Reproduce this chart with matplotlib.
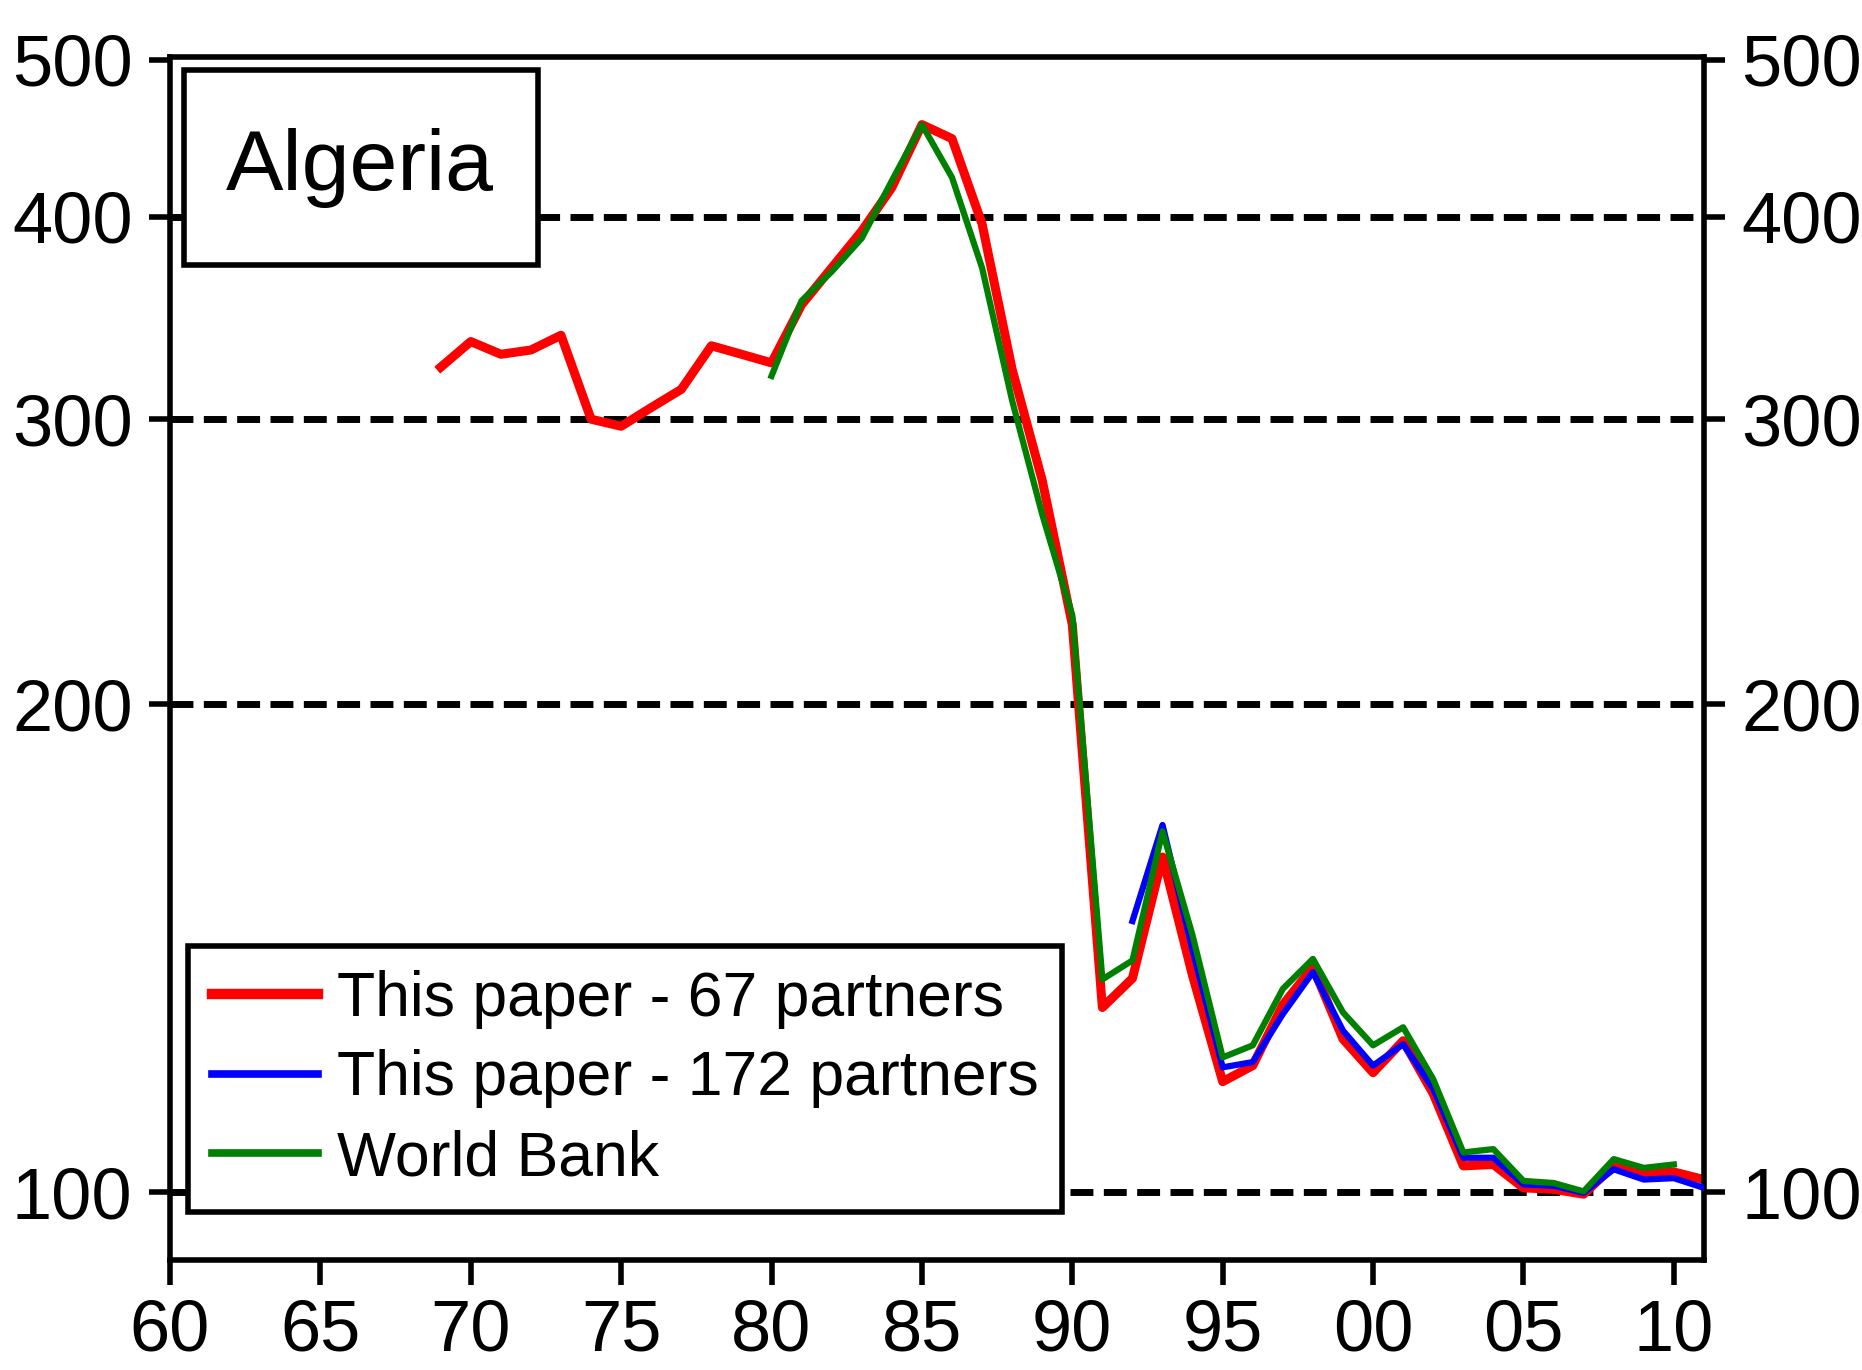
import matplotlib
matplotlib.use('Agg')
import matplotlib.pyplot as plt
import matplotlib.font_manager as fm
from matplotlib.patches import Rectangle
from matplotlib.ticker import FixedLocator, NullLocator, FuncFormatter

# narrow Arial-like font if available, else regular one a bit smaller
names = {f.name for f in fm.fontManager.ttflist}
if 'Liberation Sans Narrow' in names:
    fam, k = ['Liberation Sans Narrow', 'DejaVu Sans'], 1.2
else:
    fam, k = ['Liberation Sans', 'DejaVu Sans'], 1.0
plt.rcParams['font.family'] = fam

country = 'Algeria'
series_labels = ['This paper - 67 partners', 'This paper - 172 partners', 'World Bank']

years_67 = list(range(1969, 2012))
vals_67 = [323, 335, 329, 331, 338, 300, 297, 305, 313, 333, 329,
           325, 353, 372, 392, 417, 456, 447, 396, 322, 275,
           224, 130, 135.5, 161, 136, 117, 119.7, 130.5, 137.7, 124.3,
           118.5, 124, 115, 103.8, 104, 100.6, 100.4, 99.7, 103.8, 102.6,
           102.9, 101.8]

years_172 = list(range(1992, 2012))
vals_172 = [147, 168.5, 141, 119.4, 120.3, 128.8, 136.7, 125.8,
            119.7, 123.4, 115.8, 105, 105, 101.1, 100.9, 99.9, 103.3, 101.8,
            102, 100.6]

years_wb = list(range(1980, 2011))
vals_wb = [319, 355, 370, 388, 421, 456, 423, 372, 308, 262,
           227, 135.3, 139, 167, 144, 121.1, 123.2, 133.5, 139.3, 129.1,
           123.2, 126.4, 117.4, 105.8, 106.3, 101.6, 101.3, 100.1, 104.8, 103.5,
           104]

yticks = [100, 200, 300, 400, 500]
xticks = list(range(1960, 2011, 5))

fig = plt.figure(figsize=(18.62, 13.70), dpi=100)
ax = fig.add_axes([0.0913, 0.0803, 0.9151 - 0.0913, 0.9584 - 0.0803])

ax.plot(years_67, vals_67, color='#ff0000', lw=6.5, label=series_labels[0], zorder=2)
ax.plot(years_172, vals_172, color='#0000ff', lw=4.5, label=series_labels[1], zorder=3)
ax.plot(years_wb, vals_wb, color='#008000', lw=4.5, label=series_labels[2], zorder=4)

ax.set_yscale('log')
ax.set_ylim(90.8, 502)
ax.set_xlim(1960, 2011)
ax.yaxis.set_major_locator(FixedLocator(yticks))
ax.yaxis.set_minor_locator(NullLocator())
ax.yaxis.set_major_formatter(FuncFormatter(lambda v, p: f'{int(round(v))}'))
ax.xaxis.set_major_locator(FixedLocator(xticks))
ax.xaxis.set_major_formatter(FuncFormatter(lambda v, p: f'{int(v) % 100:02d}'))

# dashed reference lines (top one sits on the frame)
for v in yticks[:-1]:
    ax.axhline(v, color='black', lw=5, linestyle=(0, (3.3, 1.5)), zorder=1)

for s in ax.spines.values():
    s.set_linewidth(4)
ax.tick_params(axis='y', which='major', direction='out', length=15, width=4,
               pad=12, labelsize=52 * k, left=True, right=True,
               labelleft=True, labelright=True)
ax.tick_params(axis='x', which='major', direction='out', length=18, width=4,
               pad=10, labelsize=52 * k)

# country box in top-left corner
ax.add_patch(Rectangle((0.009, 0.827), 0.2306, 0.162, transform=ax.transAxes,
                       facecolor='white', edgecolor='black', lw=4, zorder=5))
ax.text(0.124, 0.908, country, transform=ax.transAxes, ha='center', va='center',
        fontsize=62 * k, zorder=6)

leg = ax.legend(loc='lower left', bbox_to_anchor=(0.0117, 0.040), borderaxespad=0,
                fontsize=45 * k, labelspacing=0.33, handlelength=1.7,
                handletextpad=0.3, borderpad=0.38, fancybox=False,
                framealpha=1, edgecolor='black')
leg.get_frame().set_linewidth(4)
for ln, w in zip(leg.get_lines(), [7.5, 5.5, 5.5]):
    ln.set_linewidth(w)

fig.savefig('out.png', dpi=100, facecolor='white')
